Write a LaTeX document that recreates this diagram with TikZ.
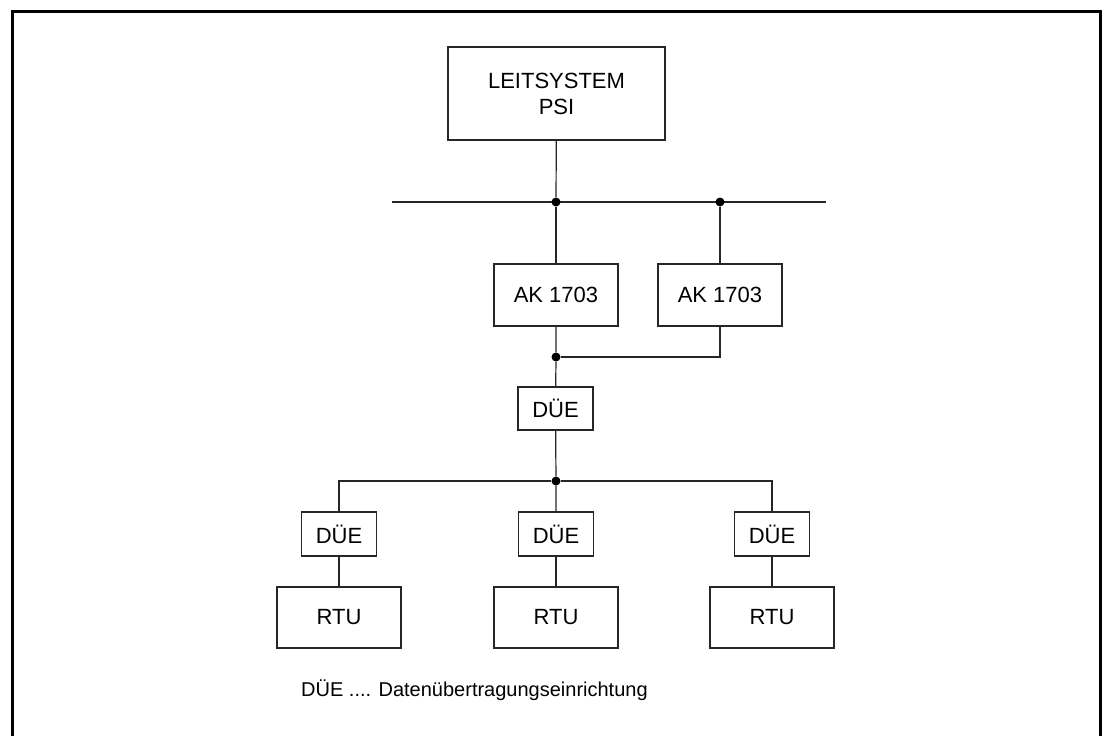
\documentclass[tikz,border=0pt]{standalone}
\usepackage{fontspec}
\setmainfont{Liberation Sans}
\tikzset{
  box/.style={draw=black!85, line width=1.2pt, inner sep=0pt, align=center,
    font=\fontsize{22}{26}\selectfont},
  wire/.style={draw=black!85, line width=1.2pt},
  dot/.style={circle, fill=black, inner sep=0pt, minimum size=9pt}
}
\begin{document}
\begin{tikzpicture}[x=1pt,y=-1pt]
  \useasboundingbox (0,0) rectangle (1103,736);
  % Cadre
  \draw[line width=3pt] (12,736) -- (12,11) -- (1100,11) -- (1100,736);

  % Leitsystem
  \node[box, minimum width=217pt, minimum height=93pt] (leit) at (556.5,93.5) {LEITSYSTEM\\PSI};

  % Bus
  \coordinate (busL) at (392,202);
  \coordinate (busR) at (826,202);
  \draw[wire] (busL) -- (busR);
  \node[dot] (ba) at (556,202) {};
  \node[dot] (bb) at (720,202) {};

  % AK 1703
  \node[box, minimum width=124pt, minimum height=62pt] (ak1) at (556,295) {AK 1703};
  \node[box, minimum width=124pt, minimum height=62pt] (ak2) at (720,295) {AK 1703};
  \node[dot] (ja) at (556,357) {};

  % DÜE
  \node[box, minimum width=75pt, minimum height=43pt] (due0) at (555.5,408.5) {DÜE};
  \node[dot] (jb) at (556,481) {};
  \node[box, minimum width=75pt, minimum height=44pt] (due1) at (339,534) {DÜE};
  \node[box, minimum width=75pt, minimum height=44pt] (due2) at (556,534) {DÜE};
  \node[box, minimum width=75pt, minimum height=44pt] (due3) at (772,534) {DÜE};

  % RTU
  \node[box, minimum width=124pt, minimum height=61pt] (rtu1) at (339,617.5) {RTU};
  \node[box, minimum width=124pt, minimum height=61pt] (rtu2) at (556,617.5) {RTU};
  \node[box, minimum width=124pt, minimum height=61pt] (rtu3) at (772,617.5) {RTU};

  % Verbindungen
  \draw[wire] (leit) -- (ba);
  \draw[wire] (ba) -- (ak1);
  \draw[wire] (bb) -- (ak2);
  \draw[wire] (ak1) -- (ja) -- (due0);
  \draw[wire] (ak2.south) |- (ja);
  \draw[wire] (due0) -- (jb) -- (due2);
  \draw[wire] (jb) -| (due1);
  \draw[wire] (jb) -| (due3);
  \draw[wire] (due1) -- (rtu1);
  \draw[wire] (due2) -- (rtu2);
  \draw[wire] (due3) -- (rtu3);

  % Legende
  \node[anchor=west, inner sep=0pt, font=\fontsize{20}{24}\selectfont] (leg) at (301,690) {DÜE .... Datenübertragungseinrichtung};
\end{tikzpicture}
\end{document}
